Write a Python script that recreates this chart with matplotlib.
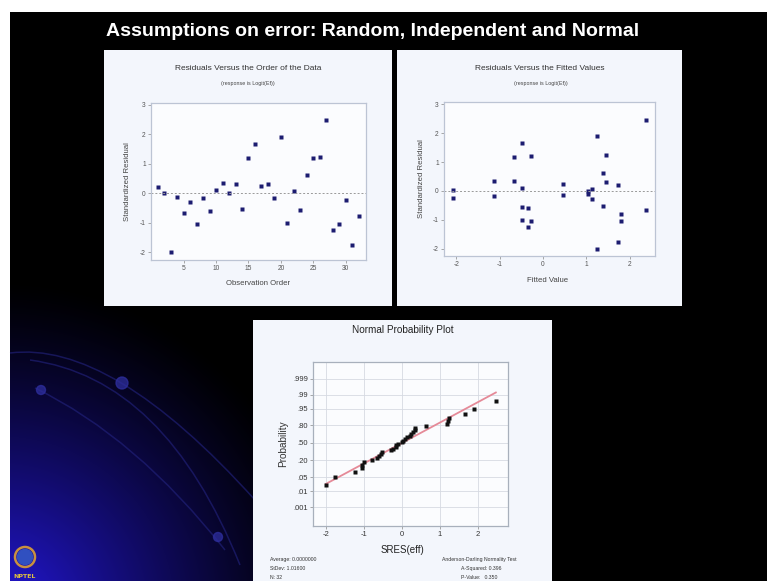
import numpy as np
import matplotlib
matplotlib.use('Agg')
import matplotlib.pyplot as plt
from matplotlib.patches import Rectangle, Circle, PathPatch
from matplotlib.path import Path
from statistics import NormalDist

W, H = 767, 581

# values
obs_order = np.arange(1, 33)
std_resid = [0.21, 0.02, -2.00, -0.11, -0.67, -0.28, -1.05, -0.17, -0.60, 0.12,
             0.35, 0.00, 0.33, -0.53, 1.21, 1.67, 0.24, 0.30, -0.15, 1.90,
             -0.99, 0.08, -0.56, 0.62, 1.18, 1.23, 2.47, -1.24, -1.05, -0.23,
             -1.76, -0.78]
fitted = [1.72, -2.08, 1.24, 1.04, 2.38, 1.12, -0.28, -1.13, -0.35, -0.49,
          -0.68, 1.04, -1.13, 1.38, -0.28, -0.49, 0.47, 1.44, 0.47, 1.24,
          -0.49, 1.12, -0.49, 1.38, -0.68, 1.44, 2.38, -0.35, 1.79, -2.08,
          1.72, 1.79]
prob_ticks = [0.001, 0.01, 0.05, 0.20, 0.50, 0.80, 0.95, 0.99, 0.999]
prob_labels = ['.001', '.01', '.05', '.20', '.50', '.80', '.95', '.99', '.999']
average, stdev, n_obs = 0.0, 1.016, 32
a_squared, p_value = 0.396, 0.350

FONT = 'Liberation Sans'
plt.rcParams['axes.unicode_minus'] = False
nd = NormalDist()


def box(x0, y0, x1, y1):
    # pixel box -> figure fraction
    return [x0 / W, 1 - y1 / H, (x1 - x0) / W, (y1 - y0) / H]


fig = plt.figure(figsize=(W / 100, H / 100), dpi=100)
fig.patch.set_facecolor('white')

# ---- slide background ----
bg = fig.add_axes([0, 0, 1, 1])
yy, xx = np.mgrid[12:H, 10:W]
d = np.hypot(xx - 0, yy - 610) / 330
glow = np.clip(1 - d, 0, 1) ** 1.25
img = np.zeros(glow.shape + (3,))
img[..., 0] = 0.14 * glow
img[..., 1] = 0.09 * glow
img[..., 2] = 0.85 * glow
bg.imshow(img, extent=(10, W, H, 12), aspect='auto', zorder=0, interpolation='bilinear')
bg.set_xlim(0, W)
bg.set_ylim(H, 0)
bg.axis('off')

for p0, c, p2 in [((10, 353), (111, 340), (255, 500)),
                  ((30, 360), (165, 378), (240, 565)),
                  ((35, 388), (136, 437), (225, 550))]:
    path = Path([p0, c, p2], [Path.MOVETO, Path.CURVE3, Path.CURVE3])
    bg.add_patch(PathPatch(path, fill=False, ec=(0.13, 0.13, 0.48), lw=1.1, alpha=0.65, zorder=1))
for (cx, cy, r) in [(122, 383, 6), (41, 390, 4.5), (218, 537, 4.5)]:
    bg.add_patch(Circle((cx, cy), r, color=(0.18, 0.18, 0.62), alpha=0.75, zorder=1))

# logo
bg.add_patch(Circle((25, 557), 10, fill=False, ec='#c89040', lw=1.8, zorder=2))
bg.add_patch(Circle((25, 557), 7.5, color='#3050c0', zorder=2))
bg.text(25, 577, 'NPTEL', color='#e0c040', fontsize=4.5, fontweight='bold',
        ha='center', va='center', zorder=3)

bg.text(373, 32, 'Assumptions on error: Random, Independent and Normal', color='white',
        fontsize=14, fontweight='bold', family=FONT, ha='center', va='center')

# panel backgrounds
panel_c = '#f3f6fc'
bg.add_patch(Rectangle((104, 50), 288, 256, fc=panel_c, ec='none', zorder=2))
bg.add_patch(Rectangle((397, 50), 285, 256, fc=panel_c, ec='none', zorder=2))
bg.add_patch(Rectangle((253, 320), 299, 270, fc=panel_c, ec='none', zorder=2))


def style(ax, fs, col, spine_c):
    ax.set_facecolor('#fbfcfe')
    for s in ax.spines.values():
        s.set_color(spine_c)
        s.set_linewidth(0.9)
    ax.tick_params(length=2, width=0.6, color='#999999', labelsize=fs,
                   labelcolor=col, pad=1.5)
    for lab in ax.get_xticklabels() + ax.get_yticklabels():
        lab.set_family(FONT)


# ---- panel 1: residuals vs order ----
ax1 = fig.add_axes(box(150.7, 103.3, 365.7, 260))
ax1.plot(obs_order, std_resid, 's', ms=2.5, color='#1c1c70', mec='none')
ax1.axhline(0, color='#999999', lw=0.7, ls=(0, (2, 2)))
ax1.set_xlim(-0.1, 33.1)
ax1.set_ylim(-2.26, 3.05)
ax1.set_xticks([5, 10, 15, 20, 25, 30])
ax1.set_yticks([-2, -1, 0, 1, 2, 3])
style(ax1, 4.8, '#555555', '#bcc4d4')
ax1.set_xlabel('Observation Order', fontsize=5.6, family=FONT, color='#444444', va='center')
ax1.xaxis.set_label_coords(0.5, -0.147)
ax1.set_ylabel('Standardized Residual', fontsize=5.6, family=FONT, color='#444444', va='center')
ax1.yaxis.set_label_coords(-0.106, 0.5)
bg.text(248, 69, 'Residuals Versus the Order of the Data', fontsize=6, family=FONT,
        color='#333333', ha='center', va='center', zorder=3)
bg.text(248, 84, '(response is Logit(Ef))', fontsize=3.9, family=FONT,
        color='#444444', ha='center', va='center', zorder=3)

# ---- panel 2: residuals vs fitted ----
ax2 = fig.add_axes(box(443.7, 101.7, 655, 256))
ax2.plot(fitted, std_resid, 's', ms=2.5, color='#1c1c70', mec='none')
ax2.axhline(0, color='#999999', lw=0.7, ls=(0, (2, 2)))
ax2.set_xlim(-2.29, 2.58)
ax2.set_ylim(-2.25, 3.09)
ax2.set_xticks([-2, -1, 0, 1, 2])
ax2.set_yticks([-2, -1, 0, 1, 2, 3])
style(ax2, 4.8, '#555555', '#bcc4d4')
ax2.set_xlabel('Fitted Value', fontsize=5.6, family=FONT, color='#444444', va='center')
ax2.xaxis.set_label_coords(0.49, -0.156)
ax2.set_ylabel('Standardized Residual', fontsize=5.6, family=FONT, color='#444444', va='center')
ax2.yaxis.set_label_coords(-0.103, 0.5)
bg.text(540, 68, 'Residuals Versus the Fitted Values', fontsize=6, family=FONT,
        color='#333333', ha='center', va='center', zorder=3)
bg.text(541, 84, '(response is Logit(Ef))', fontsize=3.9, family=FONT,
        color='#444444', ha='center', va='center', zorder=3)

# ---- panel 3: normal probability plot ----
ax3 = fig.add_axes(box(312.7, 362, 508, 526))
sres = np.sort(std_resid)
ranks = np.arange(1, n_obs + 1)
zpos = [nd.inv_cdf((r - 0.3) / (n_obs + 0.4)) for r in ranks]
ytick_z = [nd.inv_cdf(p) for p in prob_ticks]
ax3.set_xlim(-2.35, 2.79)
ax3.set_ylim(-4.0, 3.9)
ax3.set_xticks([-2, -1, 0, 1, 2])
ax3.set_yticks(ytick_z)
ax3.set_yticklabels(prob_labels)
ax3.grid(True, color='#d6dae2', lw=0.6)
ax3.set_axisbelow(True)
line_x = np.array([min(std_resid), max(std_resid)])
ax3.plot(line_x, (line_x - average) / stdev, color='#e58a98', lw=1.3)
ax3.plot(sres, zpos, 's', ms=2.5, color='#111111', mec='none')
style(ax3, 5.5, '#333333', '#a8b0bc')
ax3.set_xlabel('SRES(eff)', fontsize=7, family=FONT, color='#222222', va='center')
ax3.xaxis.set_label_coords(0.457, -0.146)
ax3.set_ylabel('Probability', fontsize=7.2, family=FONT, color='#333333', va='center')
ax3.yaxis.set_label_coords(-0.152, 0.5)
bg.text(403, 330, 'Normal Probability Plot', fontsize=7.2, family=FONT,
        color='#222222', ha='center', va='center', zorder=3)
stats_l = ['Average: %.7f' % average, 'StDev: %.5f' % stdev, 'N: %d' % n_obs]
for i, s in enumerate(stats_l):
    bg.text(270, 560 + 8.8 * i, s, fontsize=3.7, family=FONT, color='#333333',
            ha='left', va='center', zorder=3)
bg.text(442, 560, 'Anderson-Darling Normality Test', fontsize=3.7, family=FONT,
        color='#333333', ha='left', va='center', zorder=3)
bg.text(461, 568.8, 'A-Squared: %.3f' % a_squared, fontsize=3.7, family=FONT,
        color='#333333', ha='left', va='center', zorder=3)
bg.text(461, 577.6, 'P-Value:   %.3f' % p_value, fontsize=3.7, family=FONT,
        color='#333333', ha='left', va='center', zorder=3)

fig.savefig('out.png', dpi=100)
